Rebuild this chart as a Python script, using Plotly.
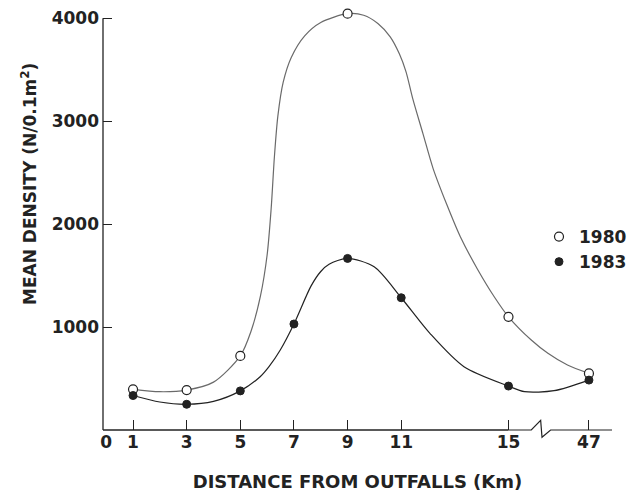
import plotly.graph_objects as go

# ---- data ----
tick_distances = [1, 3, 5, 7, 9, 11, 15, 47]
tick_labels = ["1", "3", "5", "7", "9", "11", "15", "47"]

distances_1980 = [1, 3, 5, 9, 15, 47]
density_1980 = [395, 388, 720, 4045, 1100, 550]

distances_1983 = [1, 3, 5, 7, 9, 11, 15, 47]
density_1983 = [335, 250, 380, 1030, 1667, 1285, 427, 485]

# hand-drawn smoothing curves (axis positions; the 15-47 km span sits after the axis break)
curve_pos_1980 = [1, 2, 3, 4, 5, 5.4, 5.75, 6.0, 6.15, 6.27, 6.4, 6.6, 6.9, 7.4, 8.0, 9, 9.6,
                  10.13, 10.59, 10.93, 11.18, 11.43, 11.81, 12.19, 12.7, 13.2, 13.85, 14.48, 15,
                  15.85, 16.47, 17.2, 18]
curve_val_1980 = [395, 372, 388, 465, 720, 960, 1300, 1700, 2150, 2650, 3050, 3380, 3620, 3830, 3960, 4045, 4030,
                  3950, 3820, 3655, 3480, 3220, 2880, 2540, 2190, 1880, 1560, 1290, 1100,
                  874, 745, 631, 550]
curve_pos_1983 = [1, 2, 3, 4, 5, 5.74, 6.07, 6.49, 7, 7.64, 8.0, 8.31, 9, 9.99, 11, 12.07, 13.34, 15,
                  15.6, 16.7, 18]
curve_val_1983 = [335, 272, 250, 278, 380, 517, 615, 777, 1030, 1400, 1540, 1610, 1667, 1585, 1285, 939, 615, 427,
                  372, 382, 485]

# broken axis: distances beyond 15 km are drawn at position 18
BREAK_FROM = 15
BREAK_POS = 18
X_RANGE = [-0.12, 18.86]
Y_RANGE = [0, 4100]


def axis_pos(d):
    return d if d <= BREAK_FROM else BREAK_POS


INK = "#222222"
FONT = "DejaVu Sans"

fig = go.Figure()

fig.add_trace(go.Scatter(x=curve_pos_1980, y=curve_val_1980, mode="lines",
                         line=dict(color="#6a6a6a", width=1.2, shape="spline", smoothing=0.8),
                         showlegend=False, hoverinfo="skip"))
fig.add_trace(go.Scatter(x=curve_pos_1983, y=curve_val_1983, mode="lines",
                         line=dict(color=INK, width=1.2, shape="spline", smoothing=0.8),
                         showlegend=False, hoverinfo="skip"))

fig.add_trace(go.Scatter(x=[axis_pos(d) for d in distances_1980], y=density_1980, mode="markers",
                         name="1980", legendgroup="a",
                         marker=dict(symbol="circle", size=9, color="white", line=dict(color=INK, width=1.2)),
                         cliponaxis=False))
fig.add_trace(go.Scatter(x=[axis_pos(d) for d in distances_1983], y=density_1983, mode="markers",
                         name="1983", legendgroup="b",
                         marker=dict(symbol="circle", size=8, color=INK, line=dict(color=INK, width=1)),
                         cliponaxis=False))

# invisible trace so the secondary axis (origin label) is drawn
fig.add_trace(go.Scatter(x=[0], y=[0], xaxis="x2", mode="markers",
                         marker=dict(size=1, opacity=0), showlegend=False, hoverinfo="skip"))

tick_font = dict(family=FONT, size=17, color=INK, weight="bold")

fig.update_layout(
    width=635, height=492,
    margin=dict(l=103, r=23, t=8, b=62, autoexpand=False),
    paper_bgcolor="white", plot_bgcolor="white",
    xaxis=dict(range=X_RANGE, tickvals=[axis_pos(d) for d in tick_distances], ticktext=tick_labels,
               ticks="inside", ticklen=10, tickwidth=1.2, tickcolor=INK,
               showline=False, showgrid=False, zeroline=False, tickfont=tick_font, automargin=False,
               title=dict(text="DISTANCE FROM OUTFALLS (Km)", standoff=24,
                          font=dict(family=FONT, size=18, color=INK, weight="bold"))),
    xaxis2=dict(range=X_RANGE, overlaying="x", anchor="y", side="bottom",
                tickvals=[0], ticktext=["0"], ticks="", showline=False, showgrid=False,
                zeroline=False, tickfont=tick_font, automargin=False),
    yaxis=dict(range=Y_RANGE, tickvals=[1000, 2000, 3000, 4000], automargin=False,
               ticks="inside", ticklen=9, tickwidth=1.2, tickcolor=INK, ticklabelstandoff=3,
               showline=False, showgrid=False, zeroline=False, tickfont=tick_font),
    legend=dict(xref="container", yref="container", x=539 / 635, y=1 - 219 / 492,
                xanchor="left", yanchor="top", bgcolor="rgba(0,0,0,0)", tracegroupgap=0,
                font=dict(family=FONT, size=17, color=INK, weight="bold")),
    showlegend=True,
    annotations=[dict(text="MEAN DENSITY (N/0.1m<sup>2</sup>)", textangle=-90,
                      xref="paper", yref="paper", x=(29 - 103) / 509, y=(430 - 184) / 422,
                      xanchor="center", yanchor="middle", showarrow=False,
                      font=dict(family=FONT, size=17, color=INK, weight="bold"))],
    shapes=[
        # vertical axis line up to 4000
        dict(type="line", xref="paper", yref="y", x0=0, x1=0, y0=0, y1=4000,
             line=dict(color=INK, width=1.3)),
        # horizontal axis up to the break
        dict(type="line", xref="x", yref="paper", x0=X_RANGE[0], x1=BREAK_FROM, y0=0, y1=0,
             line=dict(color=INK, width=1.3)),
        # break zig-zag and remaining axis
        dict(type="path", xref="x", yref="paper",
             path="M 15,0 L 15.85,0 L 16.2,0.023 L 16.25,-0.017 L 16.57,0 L 18.86,0",
             line=dict(color=INK, width=1.2)),
    ],
)

fig.write_html("out.html", config={"displayModeBar": False},
               post_script="document.body.style.margin='0px';")
